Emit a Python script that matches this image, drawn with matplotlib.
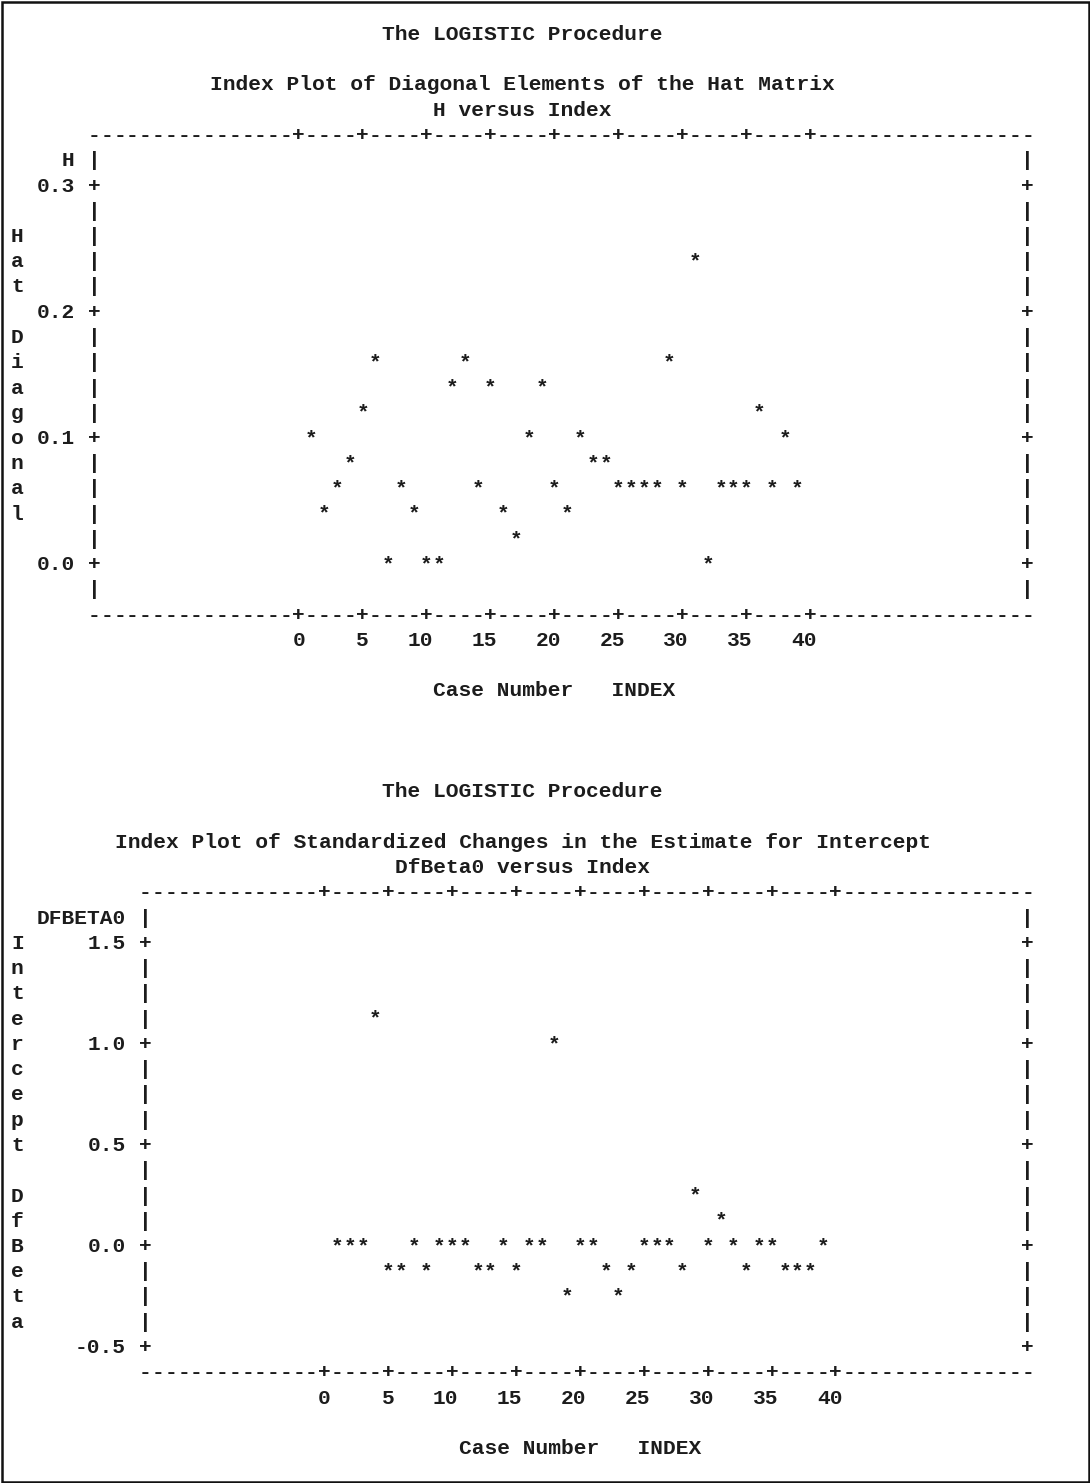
import matplotlib
matplotlib.use("Agg")
import matplotlib.pyplot as plt
from matplotlib import transforms
from matplotlib.patches import Rectangle

# ---------------- data ----------------
case_index = [1, 2, 3, 4, 5, 6, 7, 8, 9, 10, 11, 12, 13, 14, 15, 16, 17, 18, 19, 20,
              21, 22, 23, 24, 25, 26, 27, 28, 29, 30, 31, 32, 33, 34, 35, 36, 37, 38, 39]
hat_diag = [0.10, 0.04, 0.06, 0.08, 0.12, 0.16, 0.00, 0.06, 0.04, 0.00,
            0.00, 0.14, 0.16, 0.06, 0.14, 0.04, 0.02, 0.10, 0.14, 0.06,
            0.04, 0.10, 0.08, 0.08, 0.06, 0.06, 0.06, 0.06, 0.16, 0.06,
            0.24, 0.00, 0.06, 0.06, 0.06, 0.12, 0.06, 0.10, 0.06]
dfbeta0 = [0.0, 0.0, 0.0, 1.125, -0.125, -0.125, 0.0, -0.125, 0.0, 0.0,
           0.0, -0.125, -0.125, 0.0, -0.125, 0.0, 0.0, 1.0, -0.25, 0.0,
           0.0, -0.125, -0.25, -0.125, 0.0, 0.0, 0.0, -0.125, 0.25, 0.0,
           0.125, 0.0, -0.125, 0.0, 0.0, -0.125, -0.125, -0.125, 0.0]
x_ticks = [0, 5, 10, 15, 20, 25, 30, 35, 40]
hat_ticks = [0.0, 0.1, 0.2, 0.3]
hat_tick_labels = ["0.0", "0.1", "0.2", "0.3"]
dfb_ticks = [-0.5, 0.0, 0.5, 1.0, 1.5]
dfb_tick_labels = ["-0.5", "0.0", "0.5", "1.0", "1.5"]

# ---------------- page geometry (line-printer grid) ----------------
W, H, DPI = 1090, 1483, 100
CW = 12.79      # pixel width of one character column
RH = 25.25      # pixel height of one text line
X0 = 17.3       # pixel centre of page column 0
Y0 = 33.0       # pixel centre of page line 0
FS = CW / 0.6001 * 72 / DPI
INK = "#1c1c1c"
FONT = dict(family=["Liberation Mono", "DejaVu Sans Mono"], weight="bold",
            size=FS, color=INK)
BASE_DROP = 7.0  # px from visual centre of a glyph row down to baseline

fig = plt.figure(figsize=(W / DPI, H / DPI), dpi=DPI)
fig.patch.set_facecolor("white")


def make_panel(col_off, tick_line, y_ticks, y_labels, y_step, var_name, vlabel,
               title, subtitle, x_values, y_values, rows_above, rows_below,
               cols_left, cols_right):
    """col_off: page column of index 0; tick_line: page line of highest y tick."""
    y_top_tick = max(y_ticks)
    ax = fig.add_axes([0, 0, 1, 1])
    ax.set_xlim((0 - X0) / CW - col_off, (W - X0) / CW - col_off)

    def y_of_pixel(p):
        return y_top_tick - ((p - Y0) / RH - tick_line) * y_step

    ax.set_ylim(y_of_pixel(H), y_of_pixel(0))
    ax.axis("off")
    ax.patch.set_alpha(0)
    tr = transforms.offset_copy(ax.transData, fig=fig, x=0, y=-BASE_DROP, units="dots")

    def put(x, y, s, ha="center"):
        ax.text(x, y, s, ha=ha, va="baseline", transform=tr, **FONT)

    # frame extents in data units
    left = x_ticks[0] - cols_left
    right = x_ticks[-1] + cols_right
    n_up = int(round((max(y_ticks) - min(y_ticks)) / y_step))
    top_row = rows_above                      # rows above highest tick
    total_rows = rows_above + n_up + rows_below
    y_frame_top = y_top_tick + rows_above * y_step
    y_frame_bot = y_frame_top - total_rows * y_step

    # horizontal frame lines
    for c in range(left, right + 1):
        ch = "+" if c in x_ticks else "-"
        put(c, y_frame_top, ch)
        put(c, y_frame_bot, ch)
    # vertical frame lines
    tick_rows = {top_row + int(round((y_top_tick - t) / y_step)) for t in y_ticks}
    for k in range(1, total_rows):
        ch = "+" if k in tick_rows else "|"
        yy = y_frame_top - k * y_step
        put(left, yy, ch)
        put(right, yy, ch)

    # tick labels
    for t in x_ticks:
        put(t + 0.5, y_frame_bot - y_step, str(t), ha="right")
    for t, lab in zip(y_ticks, y_labels):
        put(left - 1.5, t, lab, ha="right")
    put(left - 1.5, y_frame_top - y_step, var_name, ha="right")

    # vertical axis label at page column 0, centred on the frame
    n = len(vlabel)
    first = (total_rows - (n - 1)) / 2.0
    for i, ch in enumerate(vlabel):
        if ch != " ":
            put(0 - col_off, y_frame_top - (first + i) * y_step, ch)

    # horizontal axis label
    put((x_ticks[0] + x_ticks[-1]) / 2.0, y_frame_bot - 3 * y_step,
        "Case Number   INDEX")

    # titles, centred on the 80-column page
    page_mid = 39.5 - col_off
    put(page_mid, y_frame_top + 4 * y_step, "The LOGISTIC Procedure")
    put(page_mid, y_frame_top + 2 * y_step, title)
    put(page_mid, y_frame_top + 1 * y_step, subtitle)

    # the points
    for xv, yv in zip(x_values, y_values):
        put(xv, yv, "*")
    return ax


make_panel(col_off=22, tick_line=6, y_ticks=hat_ticks, y_labels=hat_tick_labels,
           y_step=0.02, var_name="H", vlabel="Hat Diagonal",
           title="Index Plot of Diagonal Elements of the Hat Matrix",
           subtitle="H versus Index", x_values=case_index, y_values=hat_diag,
           rows_above=2, rows_below=2, cols_left=16, cols_right=17)

make_panel(col_off=24, tick_line=36, y_ticks=dfb_ticks, y_labels=dfb_tick_labels,
           y_step=0.125, var_name="DFBETA0", vlabel="Intercept DfBeta",
           title="Index Plot of Standardized Changes in the Estimate for Intercept",
           subtitle="DfBeta0 versus Index", x_values=case_index, y_values=dfbeta0,
           rows_above=2, rows_below=1, cols_left=14, cols_right=15)

# page border
fig.add_artist(Rectangle((1.5 / W, 1.5 / H), (W - 3) / W, (H - 3) / H,
                         transform=fig.transFigure, fill=False, lw=1.8, ec="#111111"))

fig.savefig("out.png", dpi=DPI, facecolor="white")
